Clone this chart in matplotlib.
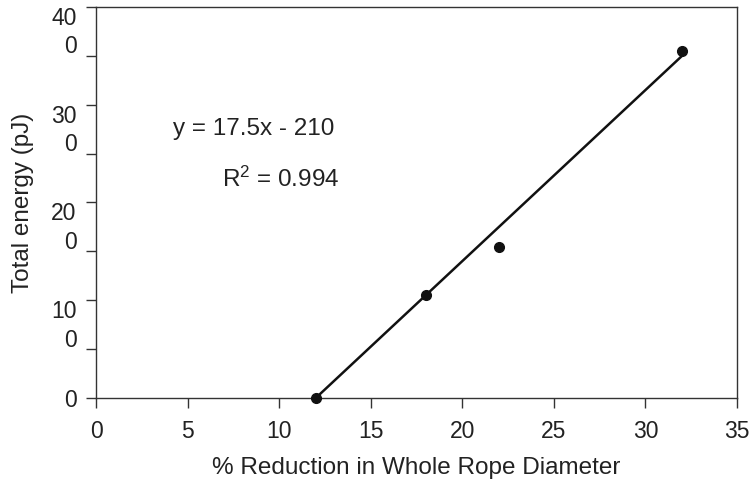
import matplotlib.pyplot as plt
import numpy as np

plt.rcParams['font.family'] = ['Liberation Sans', 'DejaVu Sans']

# measured points
reduction = [12, 18, 22, 32]
energy = [0, 105, 154, 355]

# linear fit reported on the chart
slope = 17.5
intercept = -210
r2 = 0.994
fit_x = [12, 32]

y_ticks = [0, 50, 100, 150, 200, 250, 300, 350, 400]
y_labels = ['0', '', '10\n0', '', '20\n0', '', '30\n0', '', '40\n0']
x_ticks = [0, 5, 10, 15, 20, 25, 30, 35]

txt = '#222222'

fig = plt.figure(figsize=(7.52, 4.83), dpi=100)
ax = fig.add_axes([0.1277, 0.176, 0.8523, 0.8095])

fx = np.array(fit_x, dtype=float)
ax.plot(fx, slope * fx + intercept, color='#111111', lw=1.8, zorder=2)
ax.plot(reduction, energy, 'o', color='#111111', ms=7, zorder=3, clip_on=False)

ax.set_xlim(0, 35)
ax.set_ylim(0, 400)
ax.set_xticks(x_ticks)
ax.set_yticks(y_ticks)
ax.set_yticklabels(y_labels, multialignment='right', linespacing=1.3)
for lab, v in zip(ax.get_yticklabels(), y_ticks):
    if v > 0:
        lab.set_verticalalignment('top')

ax.tick_params(axis='both', direction='out', length=7, width=1,
               color='#333333', labelsize=16.5, labelcolor=txt)
ax.tick_params(axis='y', pad=7)
ax.tick_params(axis='x', pad=9)
for s in ax.spines.values():
    s.set_color('#333333')
    s.set_linewidth(1)

ax.set_xlabel('% Reduction in Whole Rope Diameter', fontsize=17.5, color=txt, labelpad=10)
ax.set_ylabel('Total energy (pJ)', fontsize=17.5, color=txt, labelpad=12)

ax.text(4.2, 275, 'y = %.1fx - %d' % (slope, -intercept), fontsize=17.5,
        color=txt, va='center')
ax.text(6.9, 224, '$\\mathregular{R^2}$ = %.3f' % r2, fontsize=17.5,
        color=txt, va='center')

fig.savefig('out.png', dpi=100)
